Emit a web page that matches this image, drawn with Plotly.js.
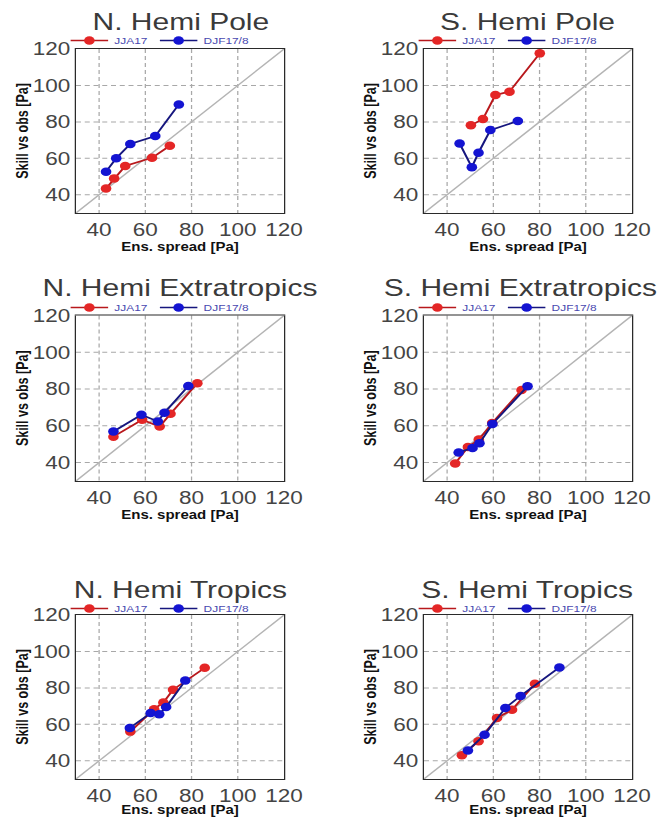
<!DOCTYPE html>
<html>
<head>
<meta charset="utf-8">
<script src="https://cdn.plot.ly/plotly-3.0.1.min.js"></script>
<style>
html,body{margin:0;padding:0;background:#fff;overflow:hidden;}
#wrap{width:670px;height:817px;overflow:hidden;}
#chart{width:536px;height:817px;transform:scaleX(1.25);transform-origin:0 0;}
#chart path{shape-rendering:geometricPrecision !important;}
</style>
</head>
<body>
<div id="wrap"><div id="chart"></div></div>
<script>
// ---- data (x = ensemble spread [Pa], y = skill vs obs [Pa]) ----
const seriesNames = ['JJA17', 'DJF17/8'];
const panelTitles = ['N. Hemi Pole', 'S. Hemi Pole', 'N. Hemi Extratropics',
                     'S. Hemi Extratropics', 'N. Hemi Tropics', 'S. Hemi Tropics'];
const tickVals = [40, 60, 80, 100, 120];
const axisRange = [30, 120];
const diagX = [30, 120];
const diagY = [30, 120];

const npJjaX = [43.0, 46.5, 51.3, 62.9, 70.6];
const npJjaY = [43.5, 49.0, 55.8, 60.3, 66.9];
const npDjfX = [43.0, 47.4, 53.5, 64.3, 74.5];
const npDjfY = [52.7, 60.0, 67.9, 72.2, 89.6];

const spJjaX = [50.3, 55.5, 60.9, 67.0, 80.1];
const spJjaY = [78.1, 81.6, 94.8, 96.6, 117.6];
const spDjfX = [45.4, 50.7, 53.6, 58.7, 70.6];
const spDjfY = [68.2, 55.1, 63.1, 75.5, 80.5];

const nxJjaX = [46.2, 58.6, 66.2, 70.9, 82.5];
const nxJjaY = [54.1, 63.3, 59.6, 66.6, 83.1];
const nxDjfX = [46.2, 58.3, 65.4, 68.3, 78.6];
const nxDjfY = [56.9, 66.0, 62.4, 67.1, 81.7];

const sxJjaX = [43.5, 49.0, 53.7, 59.5, 72.2];
const sxJjaY = [39.5, 48.5, 52.5, 61.5, 79.5];
const sxDjfX = [45.0, 51.0, 54.0, 59.6, 74.8];
const sxDjfY = [45.5, 48.0, 50.5, 61.0, 81.5];

const ntJjaX = [53.5, 63.8, 67.8, 72.0, 85.7];
const ntJjaY = [56.0, 68.3, 72.0, 79.0, 91.0];
const ntDjfX = [53.3, 62.3, 66.0, 69.0, 77.3];
const ntDjfY = [58.0, 66.2, 65.5, 69.5, 84.0];

const stJjaX = [46.4, 53.6, 61.6, 68.1, 78.0];
const stJjaY = [43.0, 50.7, 63.5, 68.0, 82.3];
const stDjfX = [49.0, 56.2, 65.2, 71.8, 88.6];
const stDjfY = [45.7, 54.3, 69.0, 75.6, 91.2];

const panelData = [
  [npJjaX, npJjaY, npDjfX, npDjfY],
  [spJjaX, spJjaY, spDjfX, spDjfY],
  [nxJjaX, nxJjaY, nxDjfX, nxDjfY],
  [sxJjaX, sxJjaY, sxDjfX, sxDjfY],
  [ntJjaX, ntJjaY, ntDjfX, ntDjfY],
  [stJjaX, stJjaY, stDjfX, stDjfY]
];

// ---- layout geometry (paper fractions) ----
const W = 670, H = 817;
const colDom = [[76 / W, 284 / W], [424 / W, 632 / W]];
const rowDom = [[1 - 213 / H, 1 - 49 / H], [1 - 481 / H, 1 - 315.5 / H], [1 - 779 / H, 1 - 615 / H]];
const titleX = [180, 527, 180, 521, 180, 527];
const titleY = [21.5, 21.5, 287.5, 287.5, 589, 589];
const legendX = [160, 508];
const legendY = [40.5, 307.5, 608.5];

const FONT = 'Liberation Sans, Arial, Helvetica, sans-serif';
const redMarker = '#e42626', redLine = '#b8181c';
const blueMarker = '#1414d2', blueLine = '#16167e';

const traces = [];
const layout = {
  width: 536, height: 817,
  margin: {l: 0, r: 0, t: 0, b: 0},
  paper_bgcolor: '#ffffff', plot_bgcolor: '#ffffff',
  font: {family: FONT},
  showlegend: true,
  annotations: []
};

panelData.forEach((d, i) => {
  const k = i + 1;
  const sfx = k === 1 ? '' : String(k);
  const xa = 'x' + sfx, ya = 'y' + sfx;
  const lg = k === 1 ? 'legend' : 'legend' + k;
  const col = i % 2, row = Math.floor(i / 2);

  traces.push({
    x: diagX, y: diagY, xaxis: xa, yaxis: ya, mode: 'lines',
    line: {color: '#b4b4b4', width: 1.3}, showlegend: false, hoverinfo: 'skip'
  });
  traces.push({
    x: d[0], y: d[1], xaxis: xa, yaxis: ya, mode: 'lines+markers', name: seriesNames[0],
    legend: lg, line: {color: redLine, width: 1.7},
    marker: {color: redMarker, size: 8.5}
  });
  traces.push({
    x: d[2], y: d[3], xaxis: xa, yaxis: ya, mode: 'lines+markers', name: seriesNames[1],
    legend: lg, line: {color: blueLine, width: 1.7},
    marker: {color: blueMarker, size: 8.5}
  });

  const axBase = {
    range: axisRange, tickvals: tickVals, ticks: '',
    showgrid: true, gridcolor: '#a8a8a8', griddash: '4px,3px', gridwidth: 1,
    showline: true, mirror: true, linecolor: '#2a2a2a', linewidth: 1,
    zeroline: false, fixedrange: true,
    tickfont: {family: FONT, size: 18, color: '#444444'}
  };
  layout['xaxis' + sfx] = Object.assign({}, axBase, {
    domain: colDom[col], anchor: ya,
    title: {text: '<b>Ens. spread [Pa]</b>', font: {family: FONT, size: 12, color: '#111'}, standoff: 1}
  });
  layout['yaxis' + sfx] = Object.assign({}, axBase, {
    domain: rowDom[row], anchor: xa,
    title: {text: '<b>Skill vs obs [Pa]</b>', font: {family: FONT, size: 12.5, color: '#111'}, standoff: 0}
  });
  layout[lg] = {
    orientation: 'h', xref: 'paper', yref: 'paper',
    x: legendX[col] / W, y: 1 - legendY[row] / H,
    xanchor: 'center', yanchor: 'middle',
    font: {family: FONT, size: 9.5, color: '#4848b0'},
    bgcolor: 'rgba(0,0,0,0)', borderwidth: 0, itemwidth: 30
  };
  layout.annotations.push({
    text: panelTitles[i], xref: 'paper', yref: 'paper',
    x: titleX[i] / W, y: 1 - titleY[i] / H, xanchor: 'center', yanchor: 'middle',
    showarrow: false, font: {family: FONT, size: 24, color: '#3a3a3a'}
  });
});

Plotly.newPlot('chart', traces, layout, {displayModeBar: false, staticPlot: true});
</script>
</body>
</html>
